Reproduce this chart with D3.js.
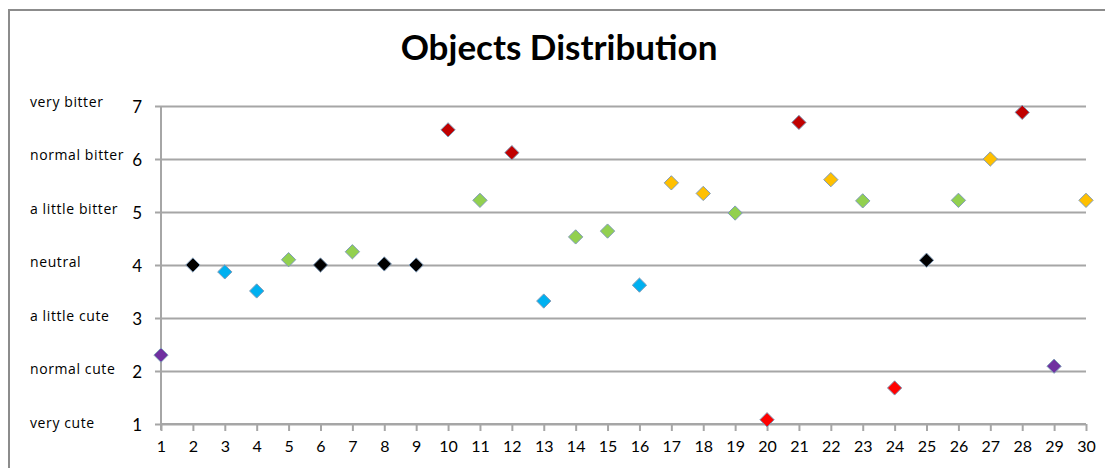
<!DOCTYPE html>
<html>
<head>
<meta charset="utf-8">
<script src="https://cdn.jsdelivr.net/npm/d3@7"></script>
<style>
  html, body { margin: 0; padding: 0; background: #fff; }
  svg { display: block; }
  text { font-family: Lato, "Open Sans", sans-serif; fill: #000; }
</style>
</head>
<body>
<svg id="chart" width="1105" height="468"></svg>
<script>
// Object index along the x axis
const objects = d3.range(1, 31);
// Taste score per object (1 = very cute ... 7 = very bitter)
const scores = [2.30, 4.00, 3.87, 3.51, 4.10, 4.00, 4.25, 4.02, 4.00, 6.55,
                5.22, 6.12, 3.32, 4.53, 4.64, 3.62, 5.55, 5.35, 4.98, 1.08,
                6.69, 5.61, 5.21, 1.68, 4.09, 5.22, 6.00, 6.88, 2.09, 5.22];
// Group of each object, used for the marker colour
const groups = ["purple", "black", "blue", "blue", "green", "black", "green", "black", "black", "darkred",
                "green", "darkred", "blue", "green", "green", "blue", "orange", "orange", "green", "red",
                "darkred", "orange", "green", "red", "black", "green", "orange", "darkred", "purple", "orange"];
const groupNames = ["purple", "black", "blue", "green", "darkred", "red", "orange"];
const groupColors = ["#7030A0", "#000000", "#00B0F0", "#92D050", "#C00000", "#FF0000", "#FFC000"];
// Y axis ticks and their taste descriptions
const yTicks = [1, 2, 3, 4, 5, 6, 7];
const tasteLabels = ["very cute", "normal cute", "a little cute", "neutral",
                     "a little bitter", "normal bitter", "very bitter"];

const svg = d3.select("#chart");
const color = d3.scaleOrdinal().domain(groupNames).range(groupColors);

const x = d3.scaleLinear().domain([1, 30]).range([161, 1086]);
const y = d3.scaleLinear().domain([1, 7]).range([424, 106]);

// chart frame
svg.append("path")
  .attr("d", "M9,468 V10 H1105")
  .attr("fill", "none")
  .attr("stroke", "#8c8c8c")
  .attr("stroke-width", 2);

// title
svg.append("text")
  .attr("x", 559).attr("y", 60)
  .attr("text-anchor", "middle")
  .style("font-size", "35px")
  .style("font-weight", "bold")
  .text("Objects Distribution");

// horizontal gridlines with left tick stubs and numeric labels
const yAxis = d3.axisLeft(y).tickValues(yTicks).tickSize(-(1086 - 155)).tickPadding(12)
  .tickFormat(d3.format("d"));
const gy = svg.append("g").attr("transform", "translate(155,0)").call(yAxis);
gy.select(".domain").remove();
gy.selectAll(".tick line").attr("stroke", "#a6a6a6").attr("stroke-width", 2);
gy.selectAll(".tick text").style("font-size", "17px").attr("dx", "-1").attr("dy", "0.4em");

// vertical axis line
svg.append("line")
  .attr("x1", x(1)).attr("x2", x(1))
  .attr("y1", y(7)).attr("y2", y(1) + 6)
  .attr("stroke", "#a6a6a6").attr("stroke-width", 2);

// x axis
const xAxis = d3.axisBottom(x).tickValues(objects).tickSize(7).tickPadding(10)
  .tickFormat(d3.format("d"));
const gx = svg.append("g").attr("transform", `translate(0,${y(1)})`).call(xAxis);
gx.select(".domain").attr("stroke", "#a6a6a6").attr("stroke-width", 2)
  .attr("d", `M${x(1)},0H${x(30)}`);
gx.selectAll(".tick line").attr("stroke", "#a6a6a6").attr("stroke-width", 2);
gx.selectAll(".tick text").style("font-size", "16px");

// taste descriptions left of the axis
const yLabel = d3.scaleLinear().domain([1, 7]).range([423, 102]);
svg.append("g").selectAll("text")
  .data(yTicks)
  .join("text")
  .attr("x", 30)
  .attr("y", d => yLabel(d))
  .attr("dy", "0.35em")
  .style("font-family", "'Open Sans', sans-serif")
  .style("font-size", "14px")
  .style("letter-spacing", "0.6px")
  .text((d, i) => tasteLabels[i]);

// diamond markers
const diamond = d3.symbol().type(d3.symbolDiamond2).size(130);
svg.append("g").selectAll("path")
  .data(objects)
  .join("path")
  .attr("transform", (d, i) => `translate(${x(d)},${y(scores[i])})`)
  .attr("d", diamond)
  .attr("fill", (d, i) => color(groups[i]))
  .attr("stroke", "#7f9bb8")
  .attr("stroke-width", 1);
</script>
</body>
</html>
